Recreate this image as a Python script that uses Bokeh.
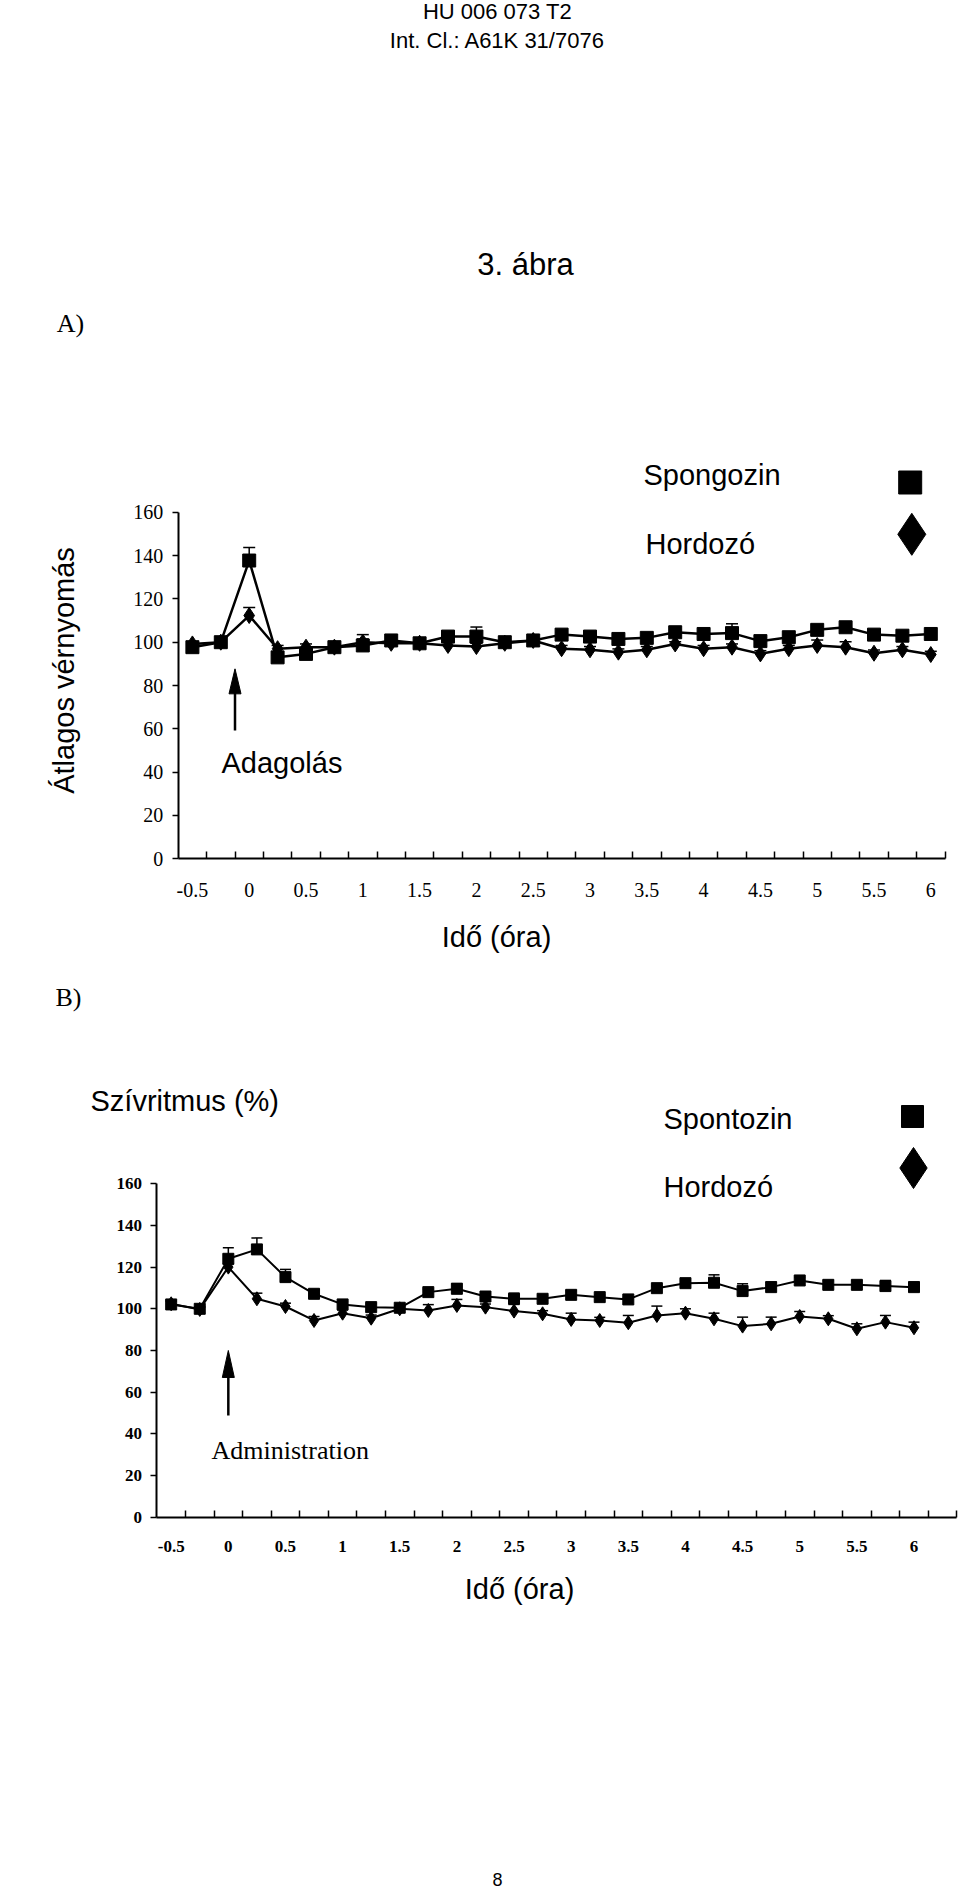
import math
from bokeh.plotting import figure
from bokeh.models import (Range1d, FixedTicker, Label, Whisker, TeeHead,
                          ColumnDataSource, LinearAxis)
from bokeh.embed import file_html
from bokeh.resources import INLINE

# ---------------- data ----------------
time_h = [-0.5, -0.25, 0.0, 0.25, 0.5, 0.75, 1.0, 1.25, 1.5, 1.75, 2.0, 2.25,
          2.5, 2.75, 3.0, 3.25, 3.5, 3.75, 4.0, 4.25, 4.5, 4.75, 5.0, 5.25,
          5.5, 5.75, 6.0]
x_tick_values = [-0.5, 0, 0.5, 1, 1.5, 2, 2.5, 3, 3.5, 4, 4.5, 5, 5.5, 6]
x_tick_labels = ["-0.5", "0", "0.5", "1", "1.5", "2", "2.5", "3", "3.5",
                 "4", "4.5", "5", "5.5", "6"]
y_ticks = [0, 20, 40, 60, 80, 100, 120, 140, 160]

# A) mean blood pressure
a_spongozin = [97.7, 100, 137.7, 93, 94.6, 97.7, 98.5, 100.8, 99.5, 102.6,
               102.6, 100, 100.8, 103.5, 102.6, 101.5, 102, 104.6, 103.8,
               104.2, 100.5, 102.3, 105.7, 106.9, 103.5, 103, 103.8]
a_spongozin_err = [1, 1, 6, 1, 1, 1, 5, 1.5, 1, 1.5, 4.4, 1, 1, 1, 1.5, 1.5,
                   1, 1, 1, 4.3, 1.5, 1, 1.5, 1, 1, 1.5, 1]
a_hordozo = [99.2, 100, 112.3, 97, 97.7, 97.7, 100, 99.5, 99.5, 98.5, 98,
             99.5, 100.8, 97, 96.5, 95.4, 96.5, 99.2, 97, 97.7, 94.6, 97,
             98.5, 97.7, 94.9, 96.5, 94.3]
a_hordozo_err = [1, 1, 3.7, 1.5, 1.5, 1, 1.5, 1, 1, 1.5, 1.5, 1, 1, 1.5, 1.5,
                 1.5, 1.5, 1, 1.5, 1.5, 1.5, 1.5, 2.5, 2.5, 1.5, 1.5, 1.5]

# B) heart rate (%)
b_spontozin = [102.1, 100, 124, 128.5, 115.2, 107.2, 102.1, 100.8, 100.5,
               108, 109.6, 105.9, 104.8, 104.8, 106.7, 105.6, 104.5, 109.9,
               112.3, 112.5, 108.5, 110.4, 113.6, 111.5, 111.5, 110.9, 110.4]
b_spontozin_err = [1.5, 1, 5.3, 5.5, 3.7, 2, 1.5, 1.6, 1, 1.5, 2.5, 1.5, 2.7,
                   1.5, 2, 1, 1, 1, 1.5, 3.8, 3.5, 2.4, 1.6, 2, 2, 2.7, 2.4]
b_hordozo = [102.4, 99.7, 120, 104.8, 101.1, 94.4, 97.9, 95.5, 100, 99.2,
             101.6, 100.8, 98.9, 97.6, 94.9, 94.4, 93.3, 96.8, 97.9, 95.2,
             91.7, 92.8, 96.3, 95.2, 90.4, 93.6, 90.9]
b_hordozo_err = [1.5, 1, 1.5, 2.7, 1.6, 1.9, 1.5, 1.5, 1, 2.8, 2.9, 1.5, 3.2,
                 1.5, 3, 1.5, 3.5, 4.5, 2.1, 2.7, 4.3, 3.2, 2.4, 1.5, 2.4,
                 3.2, 2.7]

SANS = "Liberation Sans"
SERIF = "Liberation Serif"
PAGE_W, PAGE_H = 960, 1892

# chart geometry (page pixels): left edge of x axis, px per hour,
# pixel row of value 0, px per unit
A_GEOM = dict(x_start=-0.625, x_end=6.125, left=177.7, xpx=113.6,
              zero=858.3, ypx=2.166)
B_GEOM = dict(x_start=-0.625, x_end=6.375, left=156.4, xpx=114.28,
              zero=1516.7, ypx=2.084)

p = figure(width=PAGE_W, height=PAGE_H, x_range=Range1d(0, PAGE_W),
           y_range=Range1d(PAGE_H, 0), x_axis_type=None, y_axis_type=None,
           output_backend="svg", toolbar_location=None, min_border=0)
p.outline_line_color = None
p.background_fill_color = "white"
p.border_fill_color = "white"


def ranges(g):
    xs = g["x_start"] - g["left"] / g["xpx"]
    ys = -(PAGE_H - g["zero"]) / g["ypx"]
    return (Range1d(xs, xs + PAGE_W / g["xpx"]),
            Range1d(ys, g["zero"] / g["ypx"]))


ax_r, ay_r = ranges(A_GEOM)
bx_r, by_r = ranges(B_GEOM)
p.extra_x_ranges = {"ax": ax_r, "bx": bx_r}
p.extra_y_ranges = {"ay": ay_r, "by": by_r}


def lab(x, y, text, size, font=SANS, align="left", baseline="middle",
        angle=0.0, style="normal"):
    p.add_layout(Label(x=x, y=y, text=text, text_font=font,
                       text_font_size=size, text_align=align,
                       text_baseline=baseline, angle=angle,
                       text_font_style=style, text_color="black"))


def axes(g, xr, yr, font_size, font_style, x_standoff):
    bounds = [t + 0.125 for t in time_h]
    if g["x_end"] > bounds[-1]:
        bounds.append(g["x_end"])
    xa = LinearAxis(x_range_name=xr, y_range_name=yr, fixed_location=0,
                    bounds=(g["x_start"], g["x_end"]))
    xa.ticker = FixedTicker(ticks=x_tick_values, minor_ticks=bounds)
    xa.major_label_overrides = {v: s for v, s in zip(x_tick_values,
                                                     x_tick_labels)}
    xa.major_tick_line_color = None
    xa.major_tick_in = 0
    xa.major_tick_out = 0
    xa.minor_tick_in = 7
    xa.minor_tick_out = 0
    xa.minor_tick_line_width = 1.5
    xa.minor_tick_line_color = "black"
    xa.major_label_standoff = x_standoff
    ya = LinearAxis(x_range_name=xr, y_range_name=yr,
                    fixed_location=g["x_start"], bounds=(0, 160))
    ya.ticker = FixedTicker(ticks=y_ticks)
    ya.major_tick_in = 0
    ya.major_tick_out = 6
    ya.major_tick_line_width = 1.5
    ya.major_tick_line_color = "black"
    ya.major_label_standoff = 9
    for a in (xa, ya):
        a.axis_line_width = 2
        a.axis_line_color = "black"
        a.major_label_text_font = SERIF
        a.major_label_text_font_size = font_size
        a.major_label_text_font_style = font_style
        a.major_label_text_color = "black"
    p.add_layout(xa, "below")
    p.add_layout(ya, "left")


def series(xr, yr, y, err, marker, size, lw, cap):
    src = ColumnDataSource(dict(x=time_h, y=y,
                                up=[v + e for v, e in zip(y, err)]))
    p.add_layout(Whisker(source=src, base="x", upper="up", lower="y",
                         dimension="height", line_color="black",
                         line_width=1.5, lower_head=None,
                         x_range_name=xr, y_range_name=yr,
                         upper_head=TeeHead(size=cap, line_color="black",
                                            line_width=1.5)))
    p.line("x", "y", source=src, line_color="black", line_width=lw,
           x_range_name=xr, y_range_name=yr)
    p.scatter("x", "y", source=src, marker=marker, size=size,
              fill_color="black", line_color="black",
              x_range_name=xr, y_range_name=yr)


def arrow(g, xr, yr, x, tip, tail, head_px, half_w_px):
    head = head_px / g["ypx"]
    hw = half_w_px / g["xpx"]
    p.segment(x0=[x], y0=[tail], x1=[x], y1=[tip - head * 0.5],
              line_color="black", line_width=2.5,
              x_range_name=xr, y_range_name=yr)
    p.patch(x=[x - hw, x, x + hw], y=[tip - head, tip, tip - head],
            fill_color="black", line_color="black", line_width=1,
            x_range_name=xr, y_range_name=yr)


def legend_marker(x, y, marker, size):
    p.scatter(x=[x], y=[y], marker=marker, size=size,
              fill_color="black", line_color="black")


# ---------------- header ----------------
lab(497, 11, "HU 006 073 T2", "22px", align="center")
lab(497, 40, "Int. Cl.: A61K 31/7076", "22px", align="center")
lab(525, 264, "3. ábra", "31px", align="center")
lab(70, 323, "A)", "26px", font=SERIF, align="center")

# ---------------- chart A ----------------
axes(A_GEOM, "ax", "ay", "20px", "normal", 24)
series("ax", "ay", a_hordozo, a_hordozo_err, "diamond", 16, 2.5, 12)
series("ax", "ay", a_spongozin, a_spongozin_err, "square", 13, 2.5, 12)
lab(643, 474, "Spongozin", "29px")
lab(645, 543, "Hordozó", "29px")
legend_marker(909.7, 482, "square", 23)
legend_marker(911.3, 533.8, "diamond", 42)
arrow(A_GEOM, "ax", "ay", -0.125, 87.7, 59.2, 25, 6)
lab(221, 762, "Adagolás", "29px")
lab(63, 670, "Átlagos vérnyomás", "29px", align="center", angle=math.pi / 2)
lab(496, 936, "Idő (óra)", "29px", align="center")

# ---------------- chart B ----------------
axes(B_GEOM, "bx", "by", "17px", "bold", 24)
series("bx", "by", b_hordozo, b_hordozo_err, "diamond", 14, 2, 11)
series("bx", "by", b_spontozin, b_spontozin_err, "square", 11, 2, 11)
lab(68, 997, "B)", "26px", font=SERIF, align="center")
lab(90, 1100, "Szívritmus (%)", "29px")
lab(663, 1118, "Spontozin", "29px")
lab(663, 1186, "Hordozó", "29px")
legend_marker(912, 1116, "square", 22)
legend_marker(913, 1167.5, "diamond", 41)
arrow(B_GEOM, "bx", "by", 0.0, 80.0, 48.8, 27, 6)
lab(211, 1450, "Administration", "26px", font=SERIF)
lab(519, 1588, "Idő (óra)", "29px", align="center")

# ---------------- footer ----------------
lab(497, 1879, "8", "18px", align="center")

with open("out.html", "w") as f:
    f.write(file_html(p, INLINE))
